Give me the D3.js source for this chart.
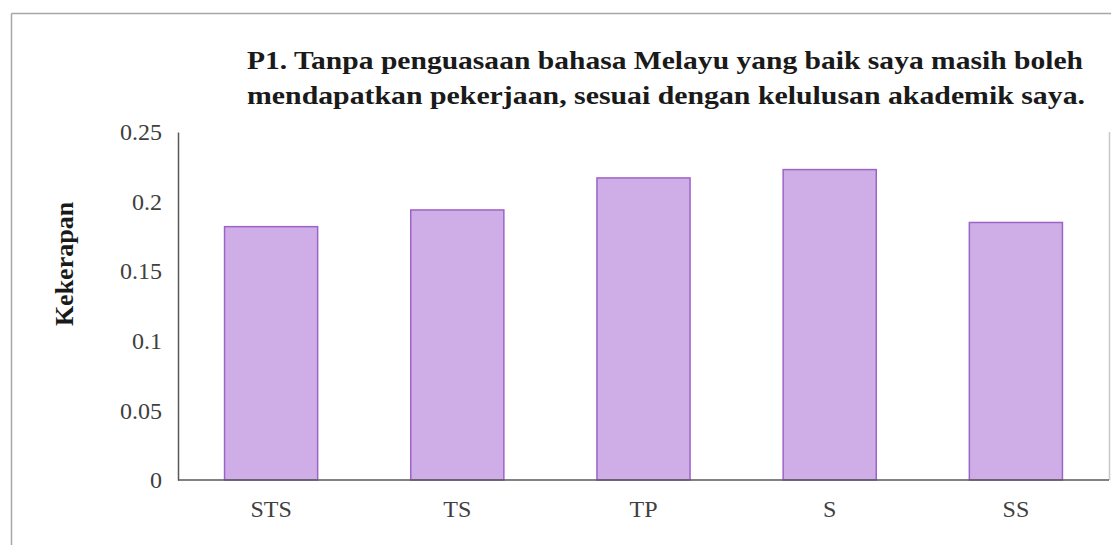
<!DOCTYPE html>
<html>
<head>
<meta charset="utf-8">
<script src="https://cdn.jsdelivr.net/npm/d3@7"></script>
<style>
  html, body { margin: 0; padding: 0; background: #fff; }
  svg { display: block; }
  text { font-family: "Liberation Serif", "Times New Roman", serif; }
</style>
</head>
<body>
<svg id="chart" width="1111" height="545"></svg>
<script>
const categories = ["STS", "TS", "TP", "S", "SS"];
const values = [0.182, 0.194, 0.217, 0.223, 0.185];
const yTicks = [0, 0.05, 0.1, 0.15, 0.2, 0.25];
const yTickLabels = ["0", "0.05", "0.1", "0.15", "0.2", "0.25"];
const titleLines = [
  "P1. Tanpa penguasaan bahasa Melayu yang baik saya masih boleh",
  "mendapatkan pekerjaan, sesuai dengan kelulusan akademik saya."
];
const yLabel = "Kekerapan";

const svg = d3.select("#chart");
const plotLeft = 178, plotRight = 1109, plotTop = 132, plotBottom = 480;

// outer frame
svg.append("line").attr("x1", 11.5).attr("y1", 13.5).attr("x2", 1111).attr("y2", 13.5)
  .attr("stroke", "#a6a6a6").attr("stroke-width", 1.5);
svg.append("line").attr("x1", 11.5).attr("y1", 13.5).attr("x2", 11.5).attr("y2", 545)
  .attr("stroke", "#a6a6a6").attr("stroke-width", 1.5);
svg.append("line").attr("x1", 1109.5).attr("y1", plotTop).attr("x2", 1109.5).attr("y2", plotBottom)
  .attr("stroke", "#c8c8c8").attr("stroke-width", 1.5);

const x = d3.scaleBand().domain(categories).range([plotLeft, plotRight]).paddingInner(0.5).paddingOuter(0.25);
const y = d3.scaleLinear().domain([0, 0.25]).range([plotBottom, plotTop]);

// bars
svg.append("g").selectAll("rect").data(values).join("rect")
  .attr("x", (d, i) => x(categories[i]))
  .attr("y", d => y(d))
  .attr("width", x.bandwidth())
  .attr("height", d => y(0) - y(d))
  .attr("fill", "#cfaee8")
  .attr("stroke", "#9d63c9")
  .attr("stroke-width", 1.5);

// y axis
const yAxis = d3.axisLeft(y).tickValues(yTicks)
  .tickFormat((d, i) => yTickLabels[i]).tickSize(0).tickPadding(16);
const gy = svg.append("g").attr("transform", `translate(${plotLeft},0)`).call(yAxis);
gy.select(".domain").attr("stroke", "#595959").attr("stroke-width", 1.5);
gy.selectAll("text").attr("font-size", 24).attr("fill", "#404040")
  .attr("font-family", "Liberation Serif");

// x axis
const xAxis = d3.axisBottom(x).tickSize(0).tickPadding(20);
const gx = svg.append("g").attr("transform", `translate(0,${plotBottom})`).call(xAxis);
gx.select(".domain").attr("stroke", "#595959").attr("stroke-width", 1.5)
  .attr("d", `M${plotLeft},0H${plotRight}`);
gx.selectAll("text").attr("font-size", 24).attr("fill", "#404040")
  .attr("font-family", "Liberation Serif");

// title
const titleWidths = [836, 838];
const title = svg.append("g").attr("font-weight", "bold").attr("font-size", 26).attr("fill", "#1a1a1a");
titleLines.forEach((t, i) => {
  title.append("text").attr("x", 247).attr("y", 69 + i * 35)
    .attr("textLength", titleWidths[i]).attr("lengthAdjust", "spacingAndGlyphs")
    .text(t);
});

// y label
svg.append("text")
  .attr("transform", `translate(73,264) rotate(-90)`)
  .attr("text-anchor", "middle")
  .attr("font-weight", "bold").attr("font-size", 26).attr("fill", "#1a1a1a")
  .text(yLabel);
</script>
</body>
</html>
